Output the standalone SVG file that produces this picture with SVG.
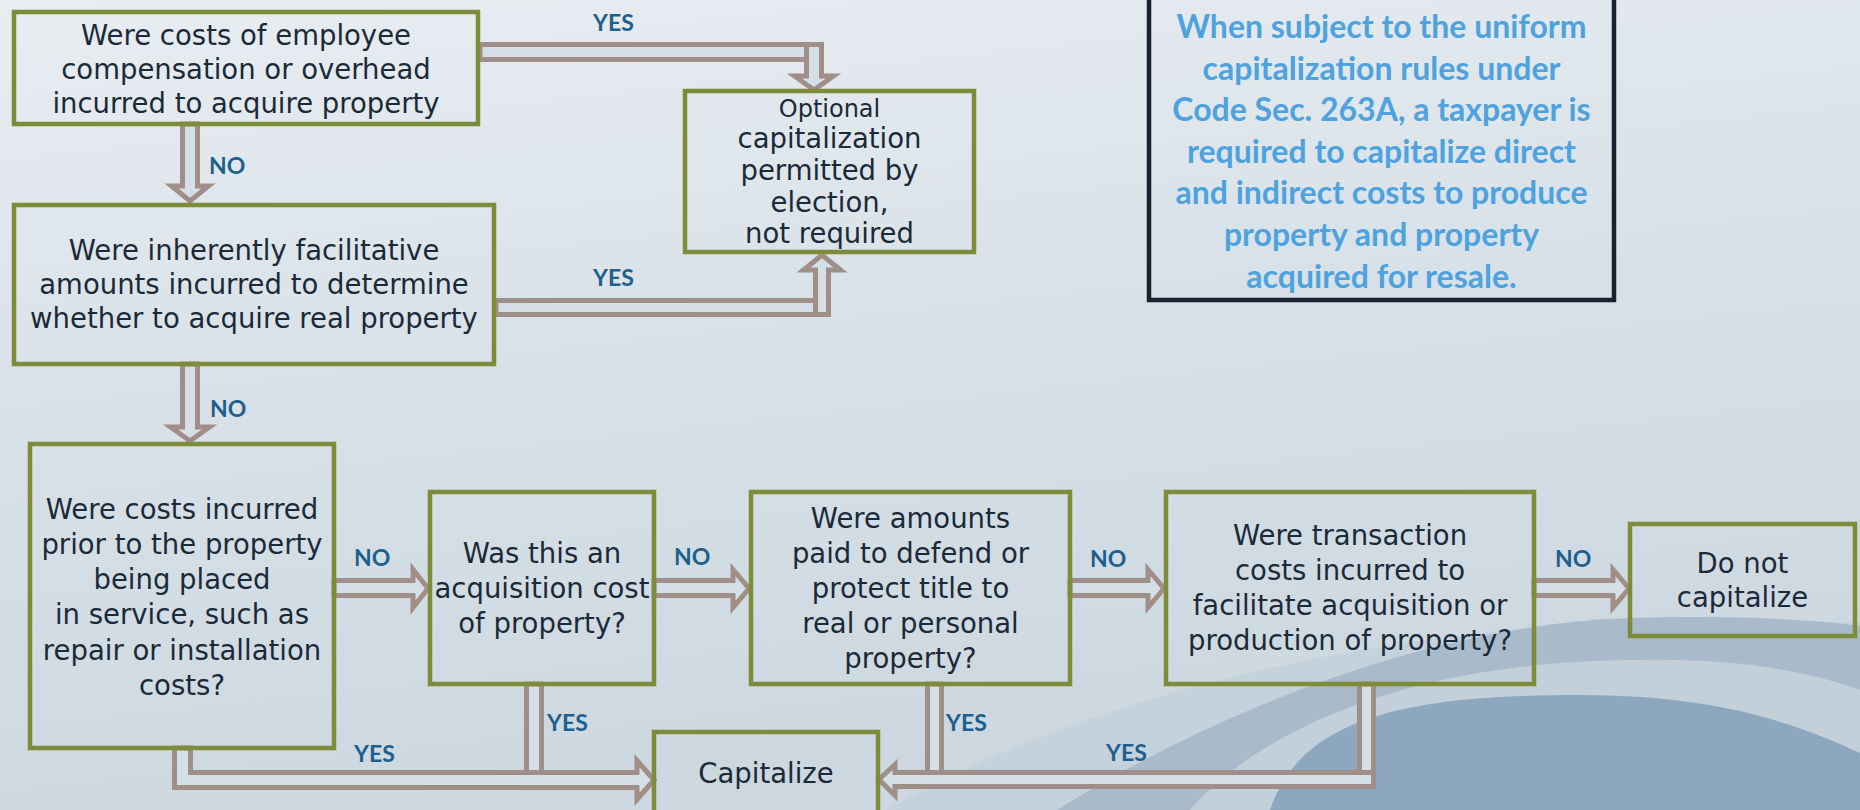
<svg xmlns="http://www.w3.org/2000/svg" width="1860" height="810" viewBox="0 0 1860 810">
  <defs>
    <linearGradient id="bg" x1="0" y1="0" x2="0.25" y2="1">
      <stop offset="0" stop-color="#e8edf1"/>
      <stop offset="0.5" stop-color="#d8e1e8"/>
      <stop offset="1" stop-color="#ccd7df"/>
    </linearGradient>
    <style>
      .box { fill: none; stroke: #7d8b3b; stroke-width: 4.5; }
      .note-box { fill: none; stroke: #16232f; stroke-width: 4.5; }
      .q { font-family: "DejaVu Sans", Verdana, sans-serif; font-size: 27.5px; fill: #1b2a38; text-anchor: middle; }
      .q-small { font-size: 24px; }
      .lbl { font-family: Lato, "Open Sans", sans-serif; font-weight: 700; font-size: 23px; fill: #1d5f8d; }
      .note { font-family: Lato, "Open Sans", sans-serif; font-weight: 700; font-size: 32px; fill: #4ea2de; text-anchor: middle; }
      .conn { fill: #d5dfe7; stroke: #a08f88; stroke-width: 5; stroke-linejoin: miter; stroke-miterlimit: 10; }
    </style>
  </defs>

  <!-- backdrop with the curved bands in the lower right -->
  <g id="background">
    <rect x="0" y="0" width="1860" height="810" fill="url(#bg)"/>
    <path d="M 887,810 C 1080,700 1330,640 1600,622 L 1860,622 L 1860,810 Z" fill="#c5d2dc"/>
    <path d="M 1057,810 C 1200,720 1420,625 1630,618 C 1740,615 1820,620 1860,626 L 1860,810 Z" fill="#a9bbca"/>
    <path d="M 1190,810 C 1270,720 1430,660 1640,660 C 1750,658 1820,675 1860,690 L 1860,810 Z" fill="#c3d0da"/>
    <path d="M 1270,810 C 1300,720 1400,695 1580,695 C 1720,695 1800,725 1860,753 L 1860,810 Z" fill="#8da8be"/>
  </g>

  <!-- hollow block arrows -->
  <g id="connectors">
    <!-- box1 -> optional (YES) -->
    <rect class="conn" x="480" y="44.5" width="341.5" height="15"/>
    <polygon class="conn" points="806.5,44.5 821.5,44.5 821.5,76 833.5,76 814,90 794.5,76 806.5,76"/>
    <!-- box2 -> optional (YES) -->
    <rect class="conn" x="496" y="300.5" width="332.5" height="14"/>
    <polygon class="conn" points="815.5,314.5 828.5,314.5 828.5,270 840.5,270 822,255 803.5,270 815.5,270"/>
    <!-- box1 -> box2 (NO) -->
    <polygon class="conn" points="182.5,124 197.5,124 197.5,186 208.5,186 190,201 171.5,186 182.5,186"/>
    <!-- box2 -> box3 (NO) -->
    <polygon class="conn" points="182.5,364 197.5,364 197.5,427 209.5,427 190,441 170.5,427 182.5,427"/>
    <!-- horizontal NO arrows -->
    <polygon class="conn" points="334,580.5 413,580.5 413,569.5 428,588.5 413,607.5 413,595.5 334,595.5"/>
    <polygon class="conn" points="654,580.5 733,580.5 733,569.5 749,588.5 733,607.5 733,595.5 654,595.5"/>
    <polygon class="conn" points="1070,580.5 1148,580.5 1148,569.5 1164,588.5 1148,607.5 1148,595.5 1070,595.5"/>
    <polygon class="conn" points="1534,580.5 1613,580.5 1613,569.5 1629,588.5 1613,607.5 1613,595.5 1534,595.5"/>
    <!-- box4 -> capitalize (YES) -->
    <rect class="conn" x="526.5" y="684" width="15" height="88.5"/>
    <!-- box3 -> capitalize (YES) -->
    <polygon class="conn" points="174.5,748 190.5,748 190.5,772.5 637,772.5 637,760.5 654,780 637,799.5 637,787.5 174.5,787.5"/>
    <!-- box5 -> capitalize (YES) -->
    <rect class="conn" x="927.5" y="684" width="14" height="88.5"/>
    <!-- box6 -> capitalize (YES) -->
    <rect class="conn" x="1359.5" y="684" width="14" height="88.5"/>
    <polygon class="conn" points="1373.5,772.5 1373.5,786.5 895,786.5 895,795.5 879,779.5 895,764.5 895,772.5"/>
  </g>

  <g id="labels">
    <text class="lbl" x="593" y="31">YES</text>
    <text class="lbl" x="593" y="286">YES</text>
    <text class="lbl" x="209" y="174">NO</text>
    <text class="lbl" x="210" y="417">NO</text>
    <text class="lbl" x="354" y="566">NO</text>
    <text class="lbl" x="674" y="565">NO</text>
    <text class="lbl" x="1090" y="567">NO</text>
    <text class="lbl" x="1555" y="567">NO</text>
    <text class="lbl" x="354" y="762">YES</text>
    <text class="lbl" x="547" y="731">YES</text>
    <text class="lbl" x="946" y="731">YES</text>
    <text class="lbl" x="1106" y="761">YES</text>
  </g>

  <g id="q-overhead">
    <rect class="box" x="14" y="12" width="464" height="112"/>
    <text class="q" x="246" y="45">Were costs of employee</text>
    <text class="q" x="246" y="79">compensation or overhead</text>
    <text class="q" x="246" y="113">incurred to acquire property</text>
  </g>

  <g id="q-facilitative">
    <rect class="box" x="14" y="205" width="480" height="159"/>
    <text class="q" x="254" y="260">Were inherently facilitative</text>
    <text class="q" x="254" y="294">amounts incurred to determine</text>
    <text class="q" x="254" y="328">whether to acquire real property</text>
  </g>

  <g id="optional">
    <rect class="box" x="685" y="91" width="289" height="161"/>
    <text class="q q-small" x="829.5" y="117">Optional</text>
    <text class="q" x="829.5" y="148">capitalization</text>
    <text class="q" x="829.5" y="180">permitted by</text>
    <text class="q" x="829.5" y="212">election,</text>
    <text class="q" x="829.5" y="243">not required</text>
  </g>

  <g id="note">
    <rect class="note-box" x="1149" y="-10" width="465" height="310"/>
    <text class="note" x="1381.5" y="38">When subject to the uniform</text>
    <text class="note" x="1381.5" y="80">capitalization rules under</text>
    <text class="note" x="1381.5" y="121">Code Sec. 263A, a taxpayer is</text>
    <text class="note" x="1381.5" y="163">required to capitalize direct</text>
    <text class="note" x="1381.5" y="204">and indirect costs to produce</text>
    <text class="note" x="1381.5" y="246">property and property</text>
    <text class="note" x="1381.5" y="288">acquired for resale.</text>
  </g>

  <g id="q-prior-service">
    <rect class="box" x="30" y="444" width="304" height="304"/>
    <text class="q" x="182" y="519">Were costs incurred</text>
    <text class="q" x="182" y="554">prior to the property</text>
    <text class="q" x="182" y="589">being placed</text>
    <text class="q" x="182" y="624">in service, such as</text>
    <text class="q" x="182" y="660">repair or installation</text>
    <text class="q" x="182" y="695">costs?</text>
  </g>

  <g id="q-acquisition">
    <rect class="box" x="430" y="492" width="224" height="192"/>
    <text class="q" x="542" y="563">Was this an</text>
    <text class="q" x="542" y="598">acquisition cost</text>
    <text class="q" x="542" y="633">of property?</text>
  </g>

  <g id="q-title">
    <rect class="box" x="751" y="492" width="319" height="192"/>
    <text class="q" x="910.5" y="528">Were amounts</text>
    <text class="q" x="910.5" y="563">paid to defend or</text>
    <text class="q" x="910.5" y="598">protect title to</text>
    <text class="q" x="910.5" y="633">real or personal</text>
    <text class="q" x="910.5" y="668">property?</text>
  </g>

  <g id="q-transaction">
    <rect class="box" x="1166" y="492" width="368" height="192"/>
    <text class="q" x="1350" y="545">Were transaction</text>
    <text class="q" x="1350" y="580">costs incurred to</text>
    <text class="q" x="1350" y="615">facilitate acquisition or</text>
    <text class="q" x="1350" y="650">production of property?</text>
  </g>

  <g id="do-not-capitalize">
    <rect class="box" x="1630" y="524" width="225" height="112"/>
    <text class="q" x="1742.5" y="573">Do not</text>
    <text class="q" x="1742.5" y="607">capitalize</text>
  </g>

  <g id="capitalize">
    <rect class="box" x="654" y="732" width="224" height="90"/>
    <text class="q" x="766" y="783">Capitalize</text>
  </g>
</svg>
